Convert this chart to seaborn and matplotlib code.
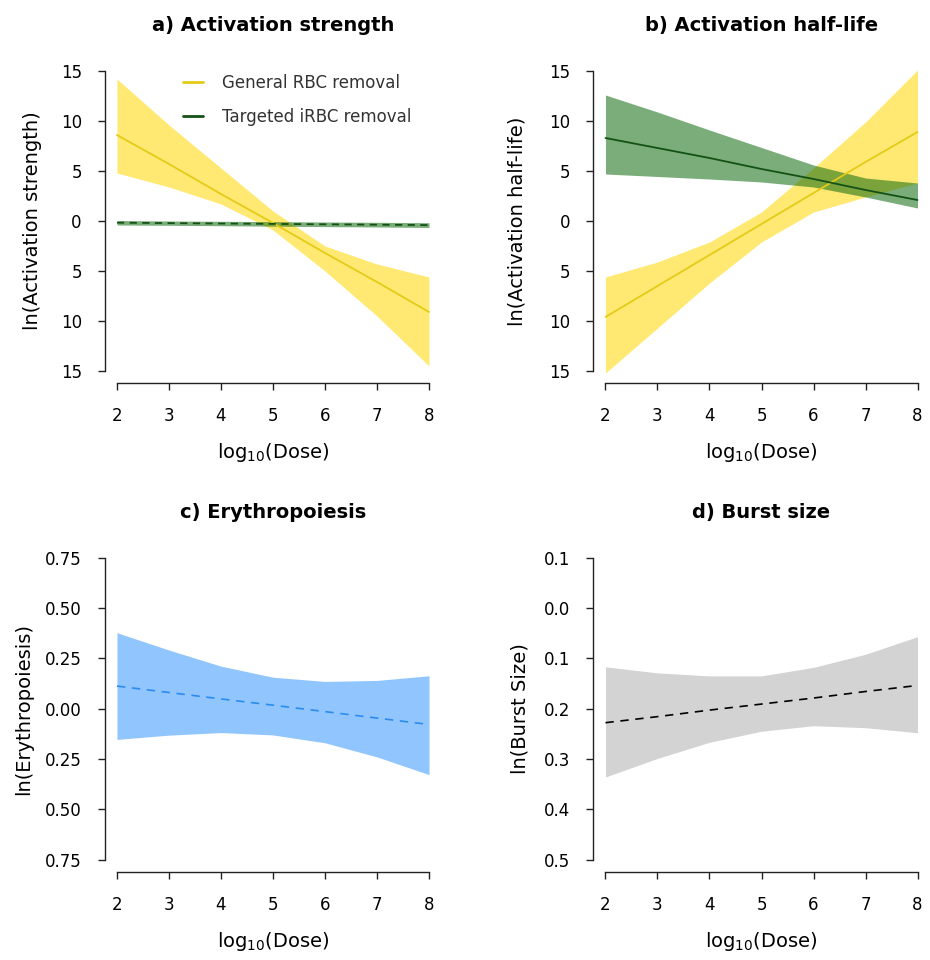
import numpy as np
import pandas as pd
import matplotlib
matplotlib.use("Agg")
import matplotlib.pyplot as plt
from matplotlib.lines import Line2D
import seaborn as sns

# values at each log10 dose
dose = [2, 3, 4, 5, 6, 7, 8]

# a) Activation strength
a_gen = [8.6, 5.7, 2.7, -0.2, -3.2, -6.1, -9.1]
a_gen_hi = [14.2, 9.6, 5.3, 1.0, -2.5, -4.3, -5.6]
a_gen_lo = [4.8, 3.4, 1.7, -0.9, -5.0, -9.5, -14.5]
a_tar = [-0.17, -0.21, -0.25, -0.29, -0.33, -0.37, -0.41]
a_tar_hi = [0.05, 0.0, -0.03, -0.06, -0.1, -0.13, -0.17]
a_tar_lo = [-0.4, -0.43, -0.47, -0.52, -0.56, -0.6, -0.65]

# b) Activation half-life
b_gen = [-9.6, -6.5, -3.4, -0.3, 2.8, 5.9, 8.9]
b_gen_hi = [-5.6, -4.1, -2.1, 0.9, 5.3, 9.9, 15.1]
b_gen_lo = [-15.2, -10.7, -6.2, -2.1, 0.9, 2.4, 3.8]
b_tar = [8.3, 7.3, 6.3, 5.2, 4.2, 3.1, 2.1]
b_tar_hi = [12.6, 10.9, 9.1, 7.35, 5.6, 4.3, 3.8]
b_tar_lo = [4.7, 4.45, 4.2, 3.9, 3.4, 2.4, 1.3]

# c) Erythropoiesis
c_fit = [0.112, 0.080, 0.048, 0.017, -0.015, -0.047, -0.079]
c_hi = [0.377, 0.291, 0.211, 0.156, 0.135, 0.140, 0.163]
c_lo = [-0.153, -0.132, -0.119, -0.131, -0.170, -0.240, -0.328]

# d) Burst size
d_fit = [-0.228, -0.216, -0.203, -0.191, -0.179, -0.166, -0.154]
d_hi = [-0.117, -0.129, -0.135, -0.135, -0.118, -0.092, -0.057]
d_lo = [-0.336, -0.299, -0.267, -0.245, -0.234, -0.238, -0.248]

ab_ticks = [15, 10, 5, 0, -5, -10, -15]
ab_labels = ["15", "10", "5", "0", "5", "10", "15"]
c_ticks = [0.75, 0.5, 0.25, 0.0, -0.25, -0.5, -0.75]
c_labels = ["0.75", "0.50", "0.25", "0.00", "0.25", "0.50", "0.75"]
d_ticks = [0.1, 0.0, -0.1, -0.2, -0.3, -0.4, -0.5]
d_labels = ["0.1", "0.0", "0.1", "0.2", "0.3", "0.4", "0.5"]

sns.set_style("ticks")
plt.rcParams["font.family"] = ["DejaVu Sans"]
plt.rcParams.update({"text.color": "black", "axes.labelcolor": "black",
                     "xtick.color": "black", "ytick.color": "black"})

YEL_FILL = "#FFD700"
YEL_LINE = "#E3CB16"
GRN_FILL = "#0F6B0F"
GRN_LINE = "#145214"

fig = plt.figure(figsize=(9.3, 9.6), dpi=100)
W, H = 930, 960
boxes = {
    "a": (104.5, 59, 337, 324),
    "b": (593, 59, 337, 324),
    "c": (104.5, 545.6, 337, 326),
    "d": (593, 545.6, 337, 326),
}
axes = {}
for k, (l, t, w, h) in boxes.items():
    axes[k] = fig.add_axes([l / W, (H - t - h) / H, w / W, h / H])


def style(ax, title, ylabel, ticks, labels, ylx):
    lo, hi = min(ticks), max(ticks)
    pad = (hi - lo) * 0.04
    ax.set_ylim(lo - pad, hi + pad)
    ax.set_xlim(2 - 0.24, 8 + 0.24)
    ax.set_xticks(dose)
    ax.set_xticklabels([str(d) for d in dose])
    ax.set_yticks(ticks)
    ax.set_yticklabels(labels)
    sns.despine(ax=ax)
    ax.spines["left"].set_bounds(lo, hi)
    ax.spines["bottom"].set_bounds(2, 8)
    for s in ("left", "bottom"):
        ax.spines[s].set_linewidth(1.0)
        ax.spines[s].set_color("#222222")
    ax.tick_params(axis="y", length=5.3, width=1.0, pad=11, labelsize=12,
                   color="#222222")
    ax.tick_params(axis="x", length=5.3, width=1.0, pad=12, labelsize=12,
                   color="#222222")
    ax.set_title(title, fontsize=14, fontweight="bold", pad=20)
    ax.set_ylabel(ylabel, fontsize=14)
    ax.set_xlabel(r"$\mathregular{log_{10}}$(Dose)", fontsize=14)
    ax.yaxis.set_label_coords(ylx, 0.5)
    ax.xaxis.set_label_coords(0.5, -0.178)
    ax.grid(False)


# panel a
ax = axes["a"]
ax.fill_between(dose, a_gen_lo, a_gen_hi, color=YEL_FILL, alpha=0.55, lw=0)
ax.fill_between(dose, a_tar_lo, a_tar_hi, color=GRN_FILL, alpha=0.55, lw=0)
sns.lineplot(x=dose, y=a_gen, ax=ax, color=YEL_LINE, lw=1.3)
sns.lineplot(x=dose, y=a_tar, ax=ax, color=GRN_LINE, lw=1.3,
             linestyle=(0, (4, 3)))
style(ax, "a) Activation strength", "ln(Activation strength)",
      ab_ticks, ab_labels, -0.185)
handles = [Line2D([], [], color=YEL_LINE, lw=2),
           Line2D([], [], color=GRN_LINE, lw=2)]
ax.legend(handles, ["General RBC removal", "Targeted iRBC removal"],
          loc="upper left", bbox_to_anchor=(0.234, 0.955), frameon=False,
          fontsize=12, handlelength=1.2, handletextpad=1.1,
          labelspacing=1.0, borderpad=0, borderaxespad=0,
          labelcolor="#333333")

# panel b
ax = axes["b"]
ax.fill_between(dose, b_gen_lo, b_gen_hi, color=YEL_FILL, alpha=0.55, lw=0)
ax.fill_between(dose, b_tar_lo, b_tar_hi, color=GRN_FILL, alpha=0.55, lw=0)
sns.lineplot(x=dose, y=b_gen, ax=ax, color=YEL_LINE, lw=1.3)
sns.lineplot(x=dose, y=b_tar, ax=ax, color=GRN_LINE, lw=1.3)
style(ax, "b) Activation half-life", "ln(Activation half-life)",
      ab_ticks, ab_labels, -0.197)

# panel c
ax = axes["c"]
ax.fill_between(dose, c_lo, c_hi, color="#90C5FD", lw=0)
sns.lineplot(x=dose, y=c_fit, ax=ax, color="#2B8CF0", lw=1.2,
             linestyle=(0, (5, 4)))
style(ax, "c) Erythropoiesis", "ln(Erythropoiesis)",
      c_ticks, c_labels, -0.212)

# panel d
ax = axes["d"]
ax.fill_between(dose, d_lo, d_hi, color="#D3D3D3", lw=0)
sns.lineplot(x=dose, y=d_fit, ax=ax, color="black", lw=1.2,
             linestyle=(0, (5, 4)))
style(ax, "d) Burst size", "ln(Burst Size)",
      d_ticks, d_labels, -0.187)

fig.savefig("out.png", dpi=100)
